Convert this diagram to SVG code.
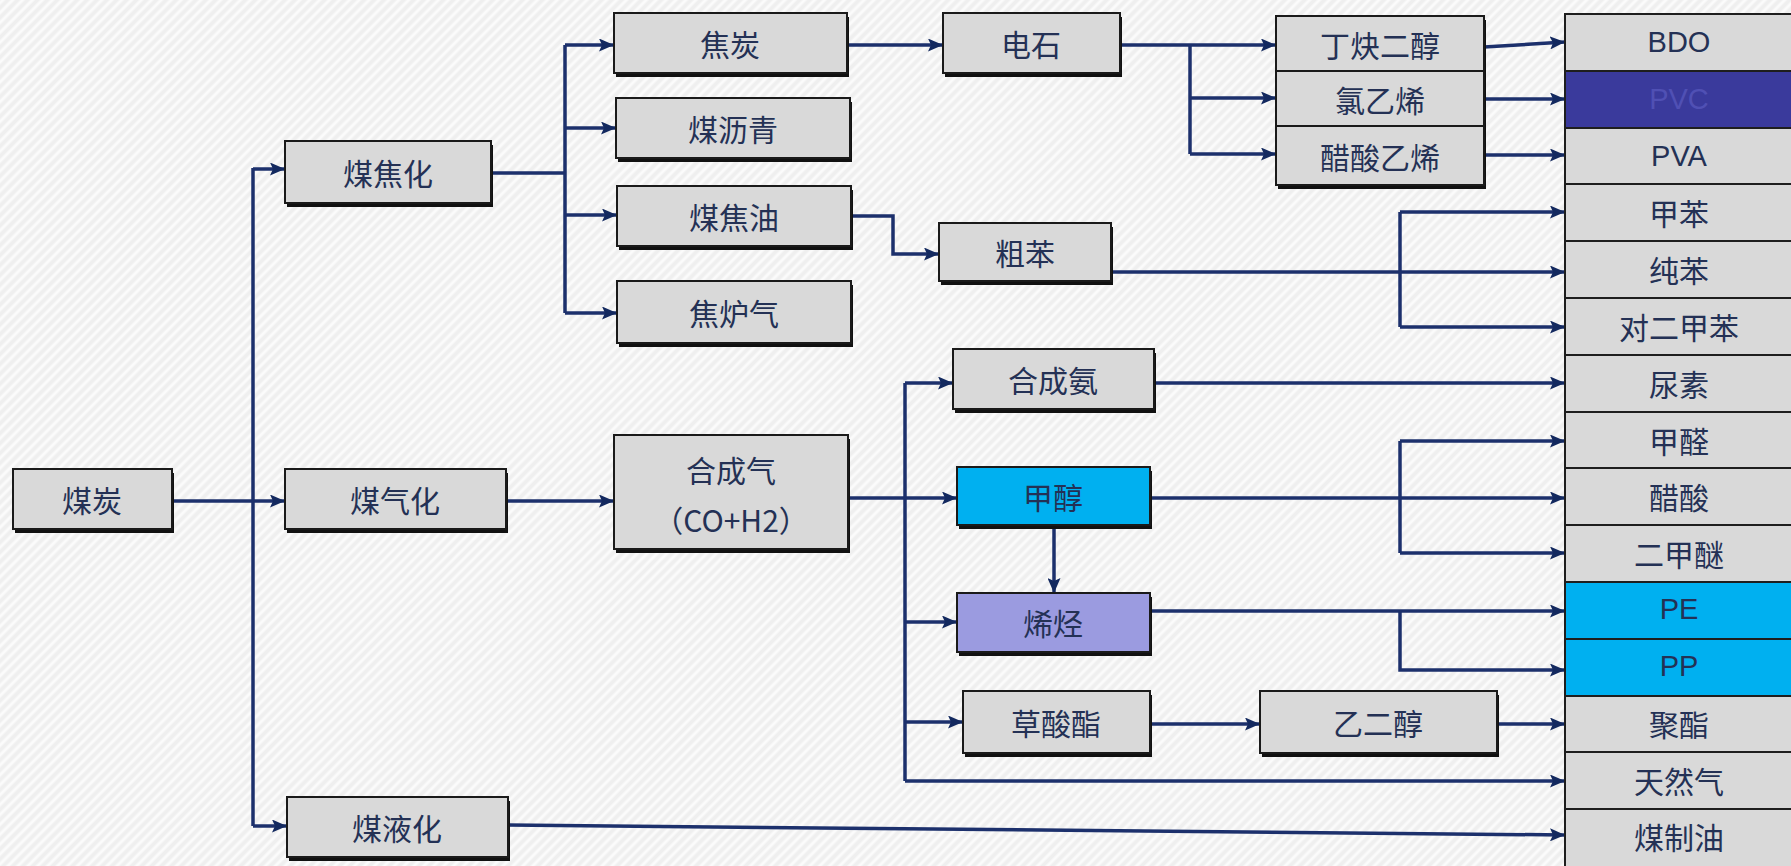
<svg xmlns="http://www.w3.org/2000/svg" width="1791" height="866" viewBox="0 0 1791 866">
<defs>
<pattern id="hatch" patternUnits="userSpaceOnUse" width="7" height="7" patternTransform="rotate(45)">
<rect width="7" height="7" fill="#efefef"/>
<line x1="2" y1="0" x2="2" y2="7" stroke="#fbfbfb" stroke-width="3"/>
</pattern>
<marker id="ah" markerUnits="userSpaceOnUse" markerWidth="15" markerHeight="13" refX="15" refY="6.5" orient="auto">
<path d="M0,0 L15,6.5 L0,13 L3,6.5 z" fill="#13295f"/>
</marker>
</defs>
<style>
.bx{fill:#d9d9d9;stroke:#1a1a1a;stroke-width:2}
.sh{fill:#111}
.t{font-family:"Noto Sans CJK SC","Noto Sans",sans-serif;font-size:30px;fill:#243155;text-anchor:middle;dominant-baseline:central}
.l{font-family:"Liberation Sans","Noto Sans CJK SC",sans-serif;font-size:29px;fill:#243155;text-anchor:middle;dominant-baseline:central}
.c{fill:none;stroke:#1c306c;stroke-width:3.5}
.a{marker-end:url(#ah)}
.rc{fill:#d9d9d9;stroke:#1e1e1e;stroke-width:2}
</style>
<rect width="1791" height="866" fill="url(#hatch)"/>

<g id="connectors">
<path class="c a" d="M172,501 H285"/>
<path class="c" d="M253,168 V826"/>
<path class="c a" d="M253,169 H285"/>
<path class="c a" d="M253,826 H287"/>
<path class="c" d="M491,173 H565 M565,45 V313"/>
<path class="c a" d="M565,45 H614"/>
<path class="c a" d="M565,128 H616"/>
<path class="c a" d="M565,215 H617"/>
<path class="c a" d="M565,313 H617"/>
<path class="c a" d="M847,45 H943"/>
<path class="c a" d="M1120,45 H1276"/>
<path class="c" d="M1190,45 V154"/>
<path class="c a" d="M1190,98 H1276"/>
<path class="c a" d="M1190,154 H1276"/>
<path class="c a" d="M1484,47 L1565,42"/>
<path class="c a" d="M1484,99 H1565"/>
<path class="c a" d="M1484,155 H1565"/>
<path class="c a" d="M851,216 H893 V254 H939"/>
<path class="c a" d="M1111,272 H1565"/>
<path class="c" d="M1400,212 V327"/>
<path class="c a" d="M1400,212 H1565"/>
<path class="c a" d="M1400,327 H1565"/>
<path class="c a" d="M506,501 H614"/>
<path class="c a" d="M848,498 H957"/>
<path class="c" d="M905,383 V781"/>
<path class="c a" d="M905,383 H953"/>
<path class="c a" d="M905,622 H957"/>
<path class="c a" d="M905,722 H963"/>
<path class="c a" d="M905,781 H1565"/>
<path class="c a" d="M1154,383 H1565"/>
<path class="c a" d="M1150,498 H1565"/>
<path class="c" d="M1400,441 V553"/>
<path class="c a" d="M1400,441 H1565"/>
<path class="c a" d="M1400,553 H1565"/>
<path class="c a" d="M1054,529 V593"/>
<path class="c a" d="M1150,611 H1565"/>
<path class="c a" d="M1400,611 V670 H1565"/>
<path class="c a" d="M1150,724 H1260"/>
<path class="c a" d="M1497,724 H1565"/>
<path class="c a" d="M508,825 L1565,835"/>
</g>

<g id="n-meitan"><rect class="sh" x="15" y="473" width="159" height="60"/><rect class="bx" x="13" y="469" width="159" height="60"/><text class="t" x="92" y="499">煤炭</text></g>
<g id="n-meijiaohua"><rect class="sh" x="287" y="145" width="206" height="62"/><rect class="bx" x="285" y="141" width="206" height="62"/><text class="t" x="388" y="172">煤焦化</text></g>
<g id="n-meiqihua"><rect class="sh" x="287" y="473" width="221" height="60"/><rect class="bx" x="285" y="469" width="221" height="60"/><text class="t" x="395" y="499">煤气化</text></g>
<g id="n-meiyehua"><rect class="sh" x="289" y="801" width="221" height="60"/><rect class="bx" x="287" y="797" width="221" height="60"/><text class="t" x="397" y="827">煤液化</text></g>
<g id="n-jiaotan"><rect class="sh" x="616" y="17" width="233" height="60"/><rect class="bx" x="614" y="13" width="233" height="60"/><text class="t" x="730" y="43">焦炭</text></g>
<g id="n-meiliqing"><rect class="sh" x="618" y="102" width="234" height="60"/><rect class="bx" x="616" y="98" width="234" height="60"/><text class="t" x="733" y="128">煤沥青</text></g>
<g id="n-meijiaoyou"><rect class="sh" x="619" y="190" width="234" height="60"/><rect class="bx" x="617" y="186" width="234" height="60"/><text class="t" x="734" y="216">煤焦油</text></g>
<g id="n-jiaoluqi"><rect class="sh" x="619" y="285" width="234" height="62"/><rect class="bx" x="617" y="281" width="234" height="62"/><text class="t" x="734" y="312">焦炉气</text></g>
<g id="n-hechengqi"><rect class="sh" x="616" y="439" width="234" height="114"/><rect class="bx" x="614" y="435" width="234" height="114"/><text class="t" x="731" y="469">合成气</text><text class="t" x="731" y="519">（CO+H2）</text></g>
<g id="n-dianshi"><rect class="sh" x="945" y="17" width="177" height="60"/><rect class="bx" x="943" y="13" width="177" height="60"/><text class="t" x="1031" y="43">电石</text></g>
<g id="n-cuben"><rect class="sh" x="941" y="227" width="172" height="58"/><rect class="bx" x="939" y="223" width="172" height="58"/><text class="t" x="1025" y="252">粗苯</text></g>
<g id="n-hechengan"><rect class="sh" x="955" y="353" width="201" height="60"/><rect class="bx" x="953" y="349" width="201" height="60"/><text class="t" x="1053" y="379">合成氨</text></g>
<g id="n-jiachun"><rect class="sh" x="959" y="471" width="193" height="58"/><rect class="bx" x="957" y="467" width="193" height="58" style="fill:#00b0f0"/><text class="t" x="1053" y="496">甲醇</text></g>
<g id="n-xiting"><rect class="sh" x="959" y="597" width="193" height="59"/><rect class="bx" x="957" y="593" width="193" height="59" style="fill:#9b9be0"/><text class="t" x="1053" y="622">烯烃</text></g>
<g id="n-caosuanzhi"><rect class="sh" x="965" y="695" width="187" height="62"/><rect class="bx" x="963" y="691" width="187" height="62"/><text class="t" x="1056" y="722">草酸酯</text></g>
<g id="n-yierchun"><rect class="sh" x="1262" y="695" width="237" height="62"/><rect class="bx" x="1260" y="691" width="237" height="62"/><text class="t" x="1378" y="722">乙二醇</text></g>
<g id="n-acetylene-group">
<rect class="sh" x="1278" y="20" width="208" height="169"/>
<rect class="bx" x="1276" y="16" width="208" height="55"/><text class="t" x="1380" y="44">丁炔二醇</text>
<rect class="bx" x="1276" y="71" width="208" height="55"/><text class="t" x="1380" y="99">氯乙烯</text>
<rect class="bx" x="1276" y="126" width="208" height="59"/><text class="t" x="1380" y="156">醋酸乙烯</text>
</g>
<g id="n-products">
<rect class="rc" x="1565" y="14" width="240" height="57"/><text class="l" x="1679" y="42">BDO</text>
<rect class="rc" x="1565" y="71" width="240" height="57" style="fill:#3a3a9c"/><text class="l" x="1679" y="99" style="fill:#5050b4">PVC</text>
<rect class="rc" x="1565" y="128" width="240" height="56"/><text class="l" x="1679" y="156">PVA</text>
<rect class="rc" x="1565" y="184" width="240" height="57"/><text class="t" x="1679" y="212">甲苯</text>
<rect class="rc" x="1565" y="241" width="240" height="57"/><text class="t" x="1679" y="269">纯苯</text>
<rect class="rc" x="1565" y="298" width="240" height="57"/><text class="t" x="1679" y="326">对二甲苯</text>
<rect class="rc" x="1565" y="355" width="240" height="57"/><text class="t" x="1679" y="383">尿素</text>
<rect class="rc" x="1565" y="412" width="240" height="56"/><text class="t" x="1679" y="440">甲醛</text>
<rect class="rc" x="1565" y="468" width="240" height="57"/><text class="t" x="1679" y="496">醋酸</text>
<rect class="rc" x="1565" y="525" width="240" height="57"/><text class="t" x="1679" y="553">二甲醚</text>
<rect class="rc" x="1565" y="582" width="240" height="57" style="fill:#00b0f0"/><text class="l" x="1679" y="609">PE</text>
<rect class="rc" x="1565" y="639" width="240" height="57" style="fill:#00b0f0"/><text class="l" x="1679" y="666">PP</text>
<rect class="rc" x="1565" y="696" width="240" height="56"/><text class="t" x="1679" y="723">聚酯</text>
<rect class="rc" x="1565" y="752" width="240" height="57"/><text class="t" x="1679" y="780">天然气</text>
<rect class="rc" x="1565" y="809" width="240" height="70"/><text class="t" x="1679" y="836">煤制油</text>
</g>
</svg>
